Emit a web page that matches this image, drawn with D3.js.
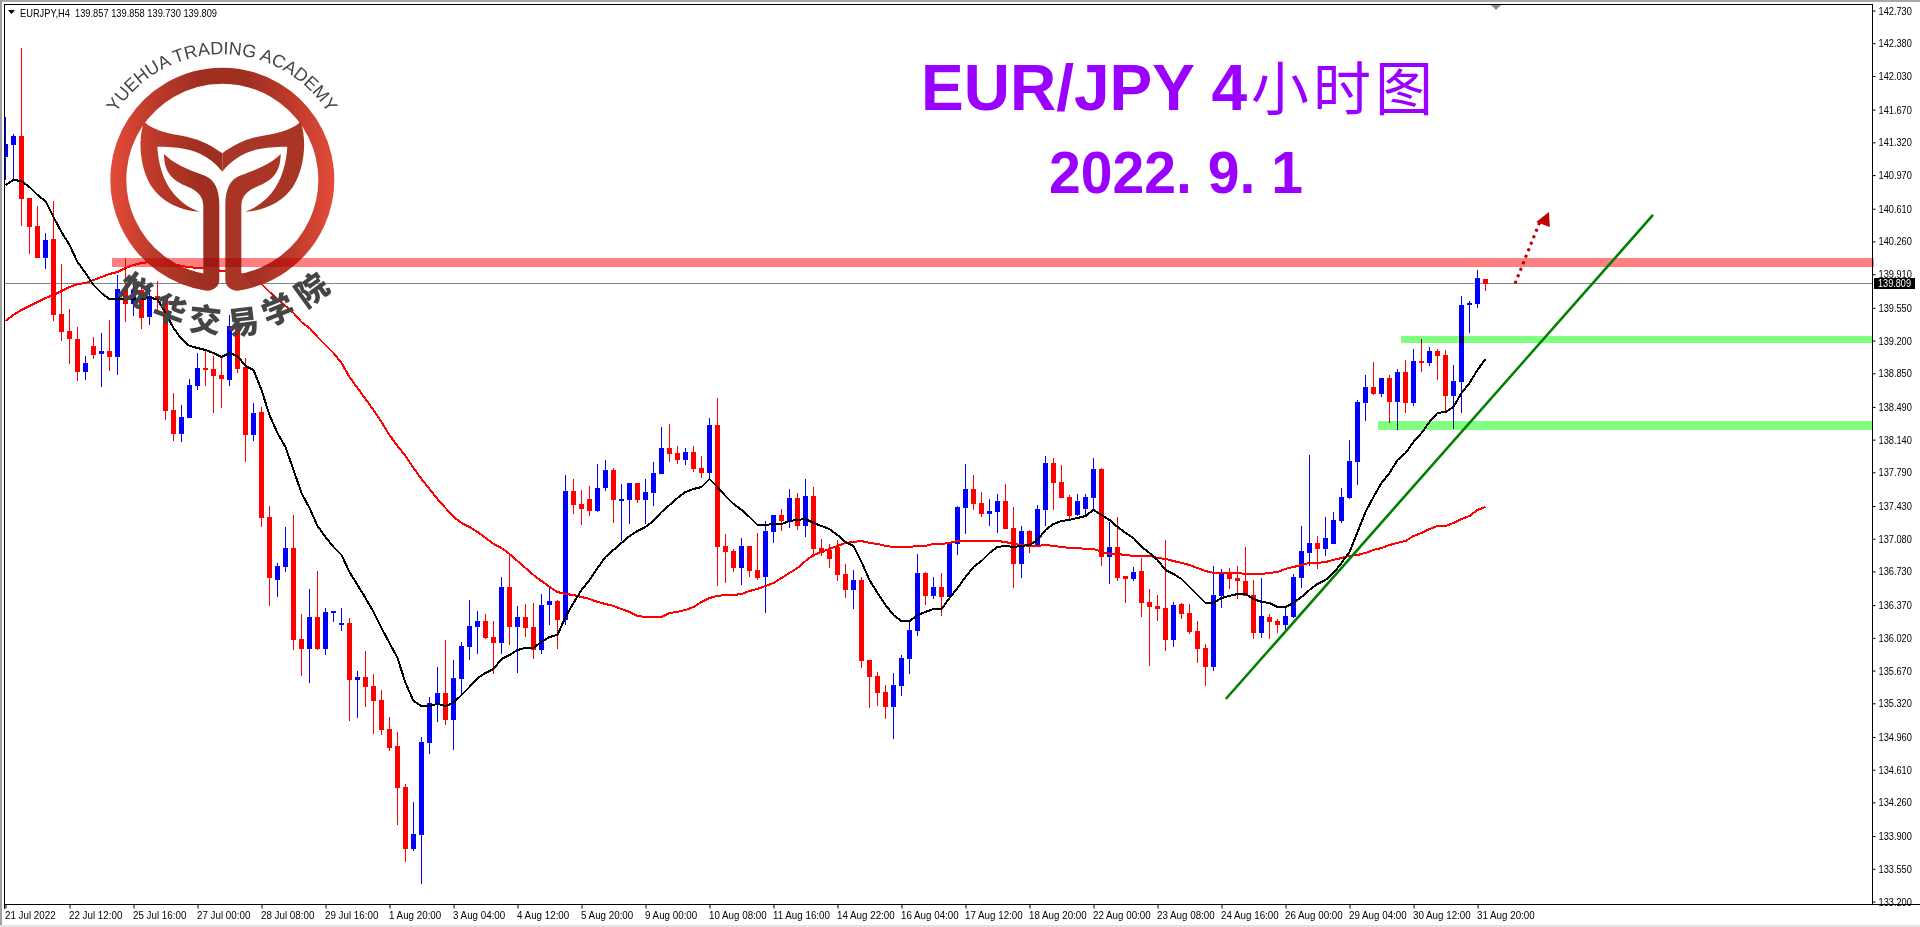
<!DOCTYPE html>
<html>
<head>
<meta charset="utf-8">
<script src="https://cdn.jsdelivr.net/npm/d3@7/dist/d3.min.js"></script>
<style>
html,body{margin:0;padding:0;background:#fff;overflow:hidden}
svg{display:block}
.ax text{font-family:"Liberation Sans",Arial,sans-serif;font-size:11px;fill:#000}
</style>
</head>
<body>
<svg id="c" width="1920" height="927"></svg>
<script>
const symbolInfo = "EURJPY,H4  139.857 139.858 139.730 139.809";
const titleLine1 = ["EUR/JPY 4", "小时图"];
const titleLine2 = "2022. 9. 1";
const logoTextEn = "YUEHUA TRADING ACADEMY";
const logoTextZh = ["悦","华","交","易","学","院"];
const lastPrice = 139.809;

const priceTicks = [142.73,142.38,142.03,141.67,141.32,140.97,140.61,140.26,139.91,139.55,139.2,138.85,138.49,138.14,137.79,137.43,137.08,136.73,136.37,136.02,135.67,135.32,134.96,134.61,134.26,133.9,133.55,133.2];
const timeLabels = ["21 Jul 2022","22 Jul 12:00","25 Jul 16:00","27 Jul 00:00","28 Jul 08:00","29 Jul 16:00","1 Aug 20:00","3 Aug 04:00","4 Aug 12:00","5 Aug 20:00","9 Aug 00:00","10 Aug 08:00","11 Aug 16:00","14 Aug 22:00","16 Aug 04:00","17 Aug 12:00","18 Aug 20:00","22 Aug 00:00","23 Aug 08:00","24 Aug 16:00","26 Aug 00:00","29 Aug 04:00","30 Aug 12:00","31 Aug 20:00"];

const high = [141.591,141.409,142.328,140.724,140.639,140.350,140.692,140.018,139.538,139.345,
139.035,139.238,139.281,139.420,139.900,140.082,139.815,139.772,139.772,139.836,
139.665,138.639,138.511,138.789,139.067,139.088,139.035,139.035,139.474,139.356,
139.013,138.532,138.489,137.431,136.821,137.206,137.334,136.275,136.543,136.736,
136.339,136.307,136.339,136.232,135.665,135.879,135.633,135.462,135.174,135.014,
134.457,134.265,134.960,135.388,135.708,135.997,135.783,135.976,136.425,136.307,
136.275,136.200,136.671,136.906,136.361,136.382,136.393,136.489,136.564,136.425,
137.762,137.719,137.601,137.644,137.880,137.922,137.837,137.665,137.676,137.676,
137.719,137.901,138.275,138.307,138.072,138.051,138.072,137.965,138.371,138.585,
137.131,136.971,137.088,137.003,137.142,137.270,137.334,137.399,137.612,137.569,
137.719,137.633,137.078,137.024,137.067,136.810,136.746,136.671,135.783,135.655,
135.516,135.644,135.837,136.200,136.917,136.725,136.671,136.714,137.045,137.431,
137.880,137.762,137.580,137.505,137.559,137.665,137.420,137.216,137.174,137.441,
137.965,137.944,137.869,137.548,137.559,137.559,137.944,137.837,137.259,137.313,
136.682,136.778,136.874,136.543,136.478,137.067,136.404,136.393,136.382,136.200,
135.954,136.789,136.757,136.767,136.789,136.992,136.639,136.660,136.275,136.222,
136.350,136.703,137.216,137.976,137.109,137.313,137.366,137.623,138.136,138.564,
138.831,138.971,138.800,138.831,138.896,138.992,139.110,139.217,139.131,139.110,
139.099,138.938,139.676,139.623,139.954,139.858];

const bodyHigh = [141.302,141.388,141.388,140.724,140.425,140.275,140.286,139.484,139.302,139.217,
138.960,139.142,139.088,139.088,139.751,139.751,139.740,139.740,139.676,139.676,
139.634,138.457,138.382,138.725,138.906,138.906,138.896,138.831,139.356,139.356,
138.917,138.425,138.436,137.313,136.789,136.981,136.981,136.008,136.243,136.243,
136.297,136.307,136.179,136.179,135.601,135.601,135.505,135.356,135.045,134.864,
134.425,133.923,134.906,135.324,135.430,135.430,135.590,135.933,136.147,136.200,
136.200,136.029,136.564,136.564,136.243,136.243,136.136,136.371,136.414,136.414,
137.590,137.590,137.452,137.505,137.623,137.815,137.815,137.505,137.676,137.676,
137.580,137.783,138.051,138.051,137.997,138.008,138.008,137.837,138.297,138.297,
137.003,136.949,137.003,137.003,136.746,137.163,137.334,137.334,137.516,137.516,
137.537,137.537,136.981,136.960,136.992,136.703,136.639,136.639,135.783,135.612,
135.441,135.516,135.805,136.104,136.714,136.714,136.564,136.564,137.045,137.420,
137.612,137.612,137.463,137.377,137.484,137.484,137.195,137.163,137.163,137.399,
137.890,137.890,137.687,137.527,137.484,137.527,137.826,137.826,136.992,136.992,
136.682,136.725,136.735,136.404,136.361,136.339,136.371,136.382,136.286,136.093,
135.912,136.478,136.703,136.714,136.660,136.628,136.478,136.254,136.243,136.200,
136.254,136.671,136.949,137.035,137.035,137.088,137.281,137.527,137.912,138.543,
138.703,138.703,138.800,138.800,138.864,138.864,138.981,138.981,139.088,139.088,
139.046,138.767,139.580,139.602,139.869,139.857];

const bodyLow = [141.163,141.292,140.714,140.414,140.082,140.082,139.474,139.292,139.217,138.864,
138.864,139.046,139.056,139.024,139.024,139.591,139.591,139.441,139.452,139.634,
138.446,138.200,138.200,138.371,138.714,138.885,138.821,138.789,138.778,138.896,
138.189,138.189,137.302,136.660,136.639,136.778,135.997,135.901,135.901,135.901,
135.901,136.286,136.168,135.569,135.569,135.494,135.345,135.035,134.842,134.415,
133.762,133.762,133.912,134.896,135.302,135.142,135.142,135.580,135.922,136.136,
136.018,135.965,135.965,136.136,136.136,136.125,135.890,135.890,136.371,136.211,
136.211,137.441,137.399,137.377,137.377,137.623,137.495,137.484,137.495,137.495,
137.495,137.569,137.772,137.986,137.922,137.922,137.826,137.783,137.783,136.992,
136.939,136.767,136.767,136.735,136.660,136.671,137.152,137.270,137.270,137.216,
137.216,136.971,136.928,136.864,136.692,136.532,136.532,135.772,135.601,135.430,
135.281,135.281,135.505,135.794,136.093,136.468,136.468,136.457,136.457,137.024,
137.409,137.452,137.345,137.345,137.366,137.184,136.810,136.810,137.013,137.013,
137.388,137.676,137.516,137.323,137.334,137.399,137.516,136.885,136.885,136.660,
136.650,136.650,136.393,136.350,136.329,135.997,135.997,136.275,136.082,135.901,
135.708,135.708,136.468,136.650,136.628,136.468,136.072,136.072,136.190,136.158,
136.158,136.243,136.660,136.928,136.971,136.971,137.024,137.270,137.516,137.901,
138.532,138.628,138.628,138.543,138.543,138.532,138.532,138.960,138.960,139.035,
138.607,138.607,138.756,139.580,139.591,139.809];

const low = [140.917,140.917,140.425,140.125,140.082,139.965,139.409,139.195,138.949,138.767,
138.778,139.003,138.703,138.874,138.831,139.398,139.463,139.324,139.367,139.527,
138.350,138.125,138.115,138.371,138.671,138.714,138.425,138.479,138.714,138.853,
137.900,138.125,137.206,136.361,136.457,136.725,135.890,135.612,135.537,135.890,
135.837,136.189,136.093,135.131,135.163,135.281,134.992,134.981,134.810,134.019,
133.623,133.740,133.388,134.778,135.120,135.088,134.821,135.398,135.783,135.847,
136.008,135.633,135.847,135.944,135.644,136.029,135.794,135.847,136.158,135.901,
136.158,137.345,137.227,137.323,137.366,137.590,137.249,137.056,137.238,137.463,
137.238,137.431,137.772,137.901,137.880,137.869,137.794,137.730,137.708,136.575,
136.607,136.725,136.585,136.671,136.639,136.286,137.035,137.163,137.195,137.174,
137.099,136.885,136.896,136.767,136.628,136.446,136.329,135.697,135.270,135.291,
135.152,134.938,135.398,135.633,136.040,136.371,136.436,136.254,136.457,136.906,
137.131,137.388,137.313,137.216,137.142,137.184,136.553,136.660,136.928,137.013,
137.216,137.388,137.516,137.281,137.323,137.323,137.388,136.789,136.596,136.628,
136.393,136.628,136.243,135.719,136.200,135.879,135.922,136.222,136.061,135.751,
135.505,135.665,136.339,136.543,136.436,136.468,136.008,136.018,136.008,136.072,
136.104,136.232,136.553,136.789,136.757,136.896,137.024,137.249,137.505,137.655,
138.339,138.618,138.596,138.318,138.243,138.425,138.500,138.864,138.928,138.778,
138.446,138.254,138.425,139.281,139.548,139.730];

// candle indexes that closed up (drawn blue); all others closed down (red)
const upCandles = [0,1,5,10,12,14,16,18,22,23,24,28,31,34,35,38,40,41,42,44,51,52,53,54,56,57,58,59,62,64,67,68,70,74,75,77,78,80,81,82,85,88,92,95,96,98,100,106,111,112,113,114,116,118,119,120,123,124,127,129,130,134,135,136,138,141,146,151,152,157,160,161,162,163,165,166,167,168,169,170,172,174,176,178,181,182,183,184];

const maFast = [140.863,140.917,140.906,140.842,140.757,140.692,140.521,140.361,140.222,140.040,
139.922,139.794,139.708,139.644,139.644,139.644,139.644,139.644,139.655,139.644,
139.495,139.334,139.217,139.142,139.120,139.099,139.067,139.024,139.067,139.035,
138.928,138.885,138.671,138.403,138.211,138.061,137.815,137.569,137.409,137.216,
137.099,136.992,136.906,136.725,136.585,136.446,136.297,136.125,135.965,135.805,
135.537,135.345,135.291,135.291,135.313,135.291,135.324,135.409,135.494,135.590,
135.644,135.687,135.794,135.837,135.890,135.912,135.912,135.976,136.029,136.051,
136.243,136.393,136.532,136.639,136.767,136.885,136.960,137.035,137.109,137.163,
137.206,137.270,137.366,137.441,137.516,137.580,137.612,137.633,137.719,137.633,
137.537,137.452,137.388,137.313,137.227,137.227,137.238,137.238,137.270,137.281,
137.291,137.249,137.216,137.184,137.120,137.045,137.003,136.832,136.639,136.500,
136.371,136.264,136.200,136.200,136.264,136.297,136.329,136.329,136.446,136.553,
136.671,136.778,136.842,136.928,136.992,137.003,136.992,137.003,137.013,137.067,
137.174,137.238,137.270,137.281,137.302,137.323,137.388,137.334,137.281,137.206,
137.142,137.088,136.992,136.928,136.853,136.746,136.703,136.650,136.564,136.478,
136.393,136.393,136.446,136.468,136.489,136.489,136.436,136.404,136.393,136.350,
136.350,136.393,136.457,136.532,136.596,136.639,136.714,136.821,136.939,137.152,
137.366,137.527,137.676,137.783,137.922,137.997,138.115,138.211,138.329,138.425,
138.436,138.489,138.639,138.746,138.885,139.003];

const maSlow = [139.409,139.474,139.527,139.569,139.612,139.655,139.687,139.730,139.772,139.804,
139.815,139.847,139.879,139.912,139.933,139.976,140.008,140.029,140.040,140.040,
140.029,140.018,139.997,139.986,139.976,139.976,139.965,139.944,139.933,139.922,
139.890,139.858,139.804,139.719,139.644,139.569,139.495,139.398,139.334,139.238,
139.152,139.067,138.960,138.810,138.692,138.575,138.457,138.329,138.189,138.072,
137.965,137.837,137.719,137.612,137.505,137.409,137.313,137.249,137.206,137.152,
137.088,137.024,136.981,136.917,136.842,136.767,136.692,136.628,136.564,136.510,
136.489,136.478,136.457,136.436,136.404,136.382,136.361,136.329,136.297,136.254,
136.243,136.243,136.243,136.286,136.297,136.318,136.350,136.404,136.446,136.468,
136.478,136.478,136.489,136.521,136.543,136.575,136.607,136.660,136.714,136.767,
136.842,136.906,136.939,136.971,137.003,137.035,137.045,137.056,137.035,137.024,
137.003,136.992,136.992,136.992,137.003,137.003,137.024,137.024,137.035,137.056,
137.056,137.056,137.056,137.056,137.056,137.045,137.024,137.013,137.003,137.003,
137.013,137.003,136.992,136.981,136.981,136.971,136.971,136.939,136.917,136.917,
136.906,136.896,136.896,136.896,136.874,136.864,136.842,136.821,136.799,136.767,
136.735,136.714,136.714,136.714,136.714,136.703,136.703,136.703,136.714,136.724,
136.757,136.778,136.799,136.821,136.821,136.831,136.853,136.874,136.896,136.906,
136.928,136.960,136.981,137.013,137.035,137.056,137.109,137.142,137.184,137.216,
137.216,137.249,137.291,137.323,137.388,137.420];

// horizontal zones: [first candle index, top price, bottom price]
const resistanceZone = [13.4, 140.082, 139.986];
const supportZoneUpper = [174.5, 139.248, 139.174];
const supportZoneLower = [171.6, 138.339, 138.243];
// trend line and arrow: [candle index, price]
const trendLine = [[152.6, 135.366],[206, 140.543]];
const arrowShaft = [[188.75, 139.809],[191.9, 140.478]];
const arrowHead = [[193, 140.574],[191.4, 140.467],[193.1, 140.414]];

const n = high.length;
const candles = d3.range(n).map(i => {
  const up = upCandles.includes(i);
  return {i, up, high: high[i], low: low[i],
    open: up ? bodyLow[i] : bodyHigh[i], close: up ? bodyHigh[i] : bodyLow[i]};
});

const x = d3.scaleLinear().domain([0, 1]).range([5, 13]);
const y = d3.scaleLinear().domain([133.2, 142.73]).range([901.5, 10.5]);
const px = v => Math.round(y(v));
const right = 1872, bottom = 904, left = 4, top0 = 4;

const svg = d3.select("#c");
const defs = svg.append("defs");
defs.append("clipPath").attr("id","plot").append("rect")
  .attr("x",5).attr("y",5).attr("width",right-5).attr("height",bottom-5);
const grad = defs.append("linearGradient").attr("id","logoGrad")
  .attr("gradientUnits","userSpaceOnUse").attr("x1",60).attr("x2",734).attr("y1",0).attr("y2",0);
[[0,"#e44c3a"],[0.18,"#bf3b2b"],[0.4,"#9f2f21"],[0.6,"#9f2f21"],[0.82,"#bf3b2b"],[1,"#e44c3a"]]
  .forEach(s => grad.append("stop").attr("offset",s[0]).attr("stop-color",s[1]));

// window chrome
svg.append("rect").attr("x",0).attr("y",0).attr("width",1920).attr("height",2).attr("fill","#a8a8a8");
svg.append("rect").attr("x",0).attr("y",0).attr("width",2).attr("height",925).attr("fill","#a0a0a0");
svg.append("rect").attr("x",0).attr("y",925).attr("width",1920).attr("height",2).attr("fill","#e4e4e4");

const plot = svg.append("g").attr("clip-path","url(#plot)");

// current price line
plot.append("line").attr("x1",5).attr("x2",right)
  .attr("y1",px(lastPrice)-.5).attr("y2",px(lastPrice)-.5)
  .attr("stroke","#808488").attr("stroke-width",1).attr("shape-rendering","crispEdges");

// candles
const cg = plot.append("g").attr("shape-rendering","crispEdges");
cg.selectAll("rect.w").data(candles).join("rect").attr("class","w")
  .attr("x", d => x(d.i)).attr("width",1)
  .attr("y", d => px(d.high)).attr("height", d => Math.max(1, px(d.low)-px(d.high)))
  .attr("fill", d => d.up ? "#0000ff" : "#ff0000");
cg.selectAll("rect.b").data(candles).join("rect").attr("class","b")
  .attr("x", d => x(d.i)-2).attr("width",5)
  .attr("y", d => px(Math.max(d.open,d.close)))
  .attr("height", d => Math.max(2, px(Math.min(d.open,d.close))-px(Math.max(d.open,d.close))))
  .attr("fill", d => d.up ? "#0000ff" : "#ff0000");

// moving averages
const line = d3.line().x((d,i)=>x(i)+.5).y(d=>y(d));
plot.append("path").datum(maSlow).attr("d",line).attr("fill","none").attr("stroke","#ff0000").attr("stroke-width",2).attr("shape-rendering","crispEdges");
plot.append("path").datum(maFast).attr("d",line).attr("fill","none").attr("stroke","#000").attr("stroke-width",2).attr("shape-rendering","crispEdges");

// logo (decorative artwork, in its own local drawing space)
const logo = svg.append("g").attr("transform","translate(90,20) scale(0.3333)");
const cx = 397, cy = 479, r = 312;
const ang = Math.asin(46/ r);
logo.append("path")
  .attr("d",`M${cx-r*Math.sin(ang)},${cy+r*Math.cos(ang)} A${r},${r} 0 1 1 ${cx+r*Math.sin(ang)},${cy+r*Math.cos(ang)}`)
  .attr("fill","none").attr("stroke","url(#logoGrad)").attr("stroke-width",48);
const tailL = "M162,305 C195,335 240,340 290,350 C335,360 370,380 397,400 L397,455 C370,420 330,395 285,387 C255,381 230,380 202,380 C205,430 218,480 250,520 C275,550 300,565 328,575 C270,572 215,545 185,500 C155,455 140,370 162,305 Z";
const stemL = "M222,402 C250,430 290,448 345,467 C372,478 388,505 388,555 L388,780 C388,798 372,812 352,812 L300,800 L340,762 L340,560 C340,530 325,515 300,503 C255,485 222,465 222,402 Z";
const mirror = `translate(${2*cx},0) scale(-1,1)`;
[tailL, stemL].forEach(p => {
  logo.append("path").attr("d",p).attr("fill","url(#logoGrad)");
  logo.append("path").attr("d",p).attr("fill","#a83525").attr("transform",mirror);
});
svg.append("defs").append("path").attr("id","arcEn")
  .attr("d","M 99,157 A 125,125 0 0 1 345,157");
svg.append("text").attr("font-family","Liberation Sans,Arial,sans-serif").attr("font-size",18).attr("fill","#454545")
  .append("textPath").attr("href","#arcEn").attr("startOffset","50%").attr("text-anchor","middle").text(logoTextEn);
const zhPos = [[135,290,36],[170,310,20],[205,320,6],[243,322,-7],[278,310,-22],[312,290,-36]];
svg.append("g").selectAll("text").data(logoTextZh).join("text")
  .attr("transform",(d,i)=>`translate(${zhPos[i][0]},${zhPos[i][1]}) rotate(${zhPos[i][2]})`)
  .attr("text-anchor","middle").attr("dy","0.36em")
  .attr("font-family","Noto Sans CJK SC").attr("font-weight",900).attr("font-size",32).attr("fill","#454545")
  .text(d=>d);

// zones on top with multiply
const zones = [[resistanceZone,"#ff8080",right+2],[supportZoneUpper,"#80ff80",right],[supportZoneLower,"#80ff80",right]];
svg.append("g").attr("shape-rendering","crispEdges").selectAll("rect").data(zones).join("rect")
  .attr("x",d=>x(d[0][0])).attr("width",d=>d[2]-x(d[0][0]))
  .attr("y",d=>px(d[0][1])).attr("height",d=>px(d[0][2])-px(d[0][1]))
  .attr("fill",d=>d[1]).style("mix-blend-mode","multiply");

// trend line
const annLine = d3.line().x(d=>x(d[0])).y(d=>y(d[1]));
svg.append("path").datum(trendLine).attr("d",annLine).attr("stroke","#008000").attr("stroke-width",2.6).attr("fill","none");
// arrow
svg.append("path").datum(arrowShaft).attr("d",annLine).attr("stroke","#c00000").attr("stroke-width",3)
  .attr("stroke-dasharray","3 4").attr("fill","none");
svg.append("path").attr("d",annLine(arrowHead)+"Z").attr("fill","#c00000");

// axes
const tighten = (sel, k) => sel.each(function(){
  const len = this.getComputedTextLength();
  d3.select(this).attr("textLength",len*k).attr("lengthAdjust","spacingAndGlyphs");
});
const yAxis = d3.axisRight(y).tickValues(priceTicks).tickFormat(d3.format(".3f")).tickSize(3).tickPadding(3);
const yg = svg.append("g").attr("class","ax").attr("transform",`translate(${right+.5},0)`).call(yAxis);
yg.select(".domain").remove();
tighten(yg.selectAll("text"),0.84);
const xAxis = d3.axisBottom(x).tickValues(timeLabels.map((d,i)=>i*8)).tickFormat((d,i)=>timeLabels[i]).tickSize(4).tickPadding(3);
const xg = svg.append("g").attr("class","ax").attr("transform",`translate(0.5,${bottom+.5})`).call(xAxis);
xg.select(".domain").remove();
xg.selectAll("text").attr("text-anchor","start").attr("x",-1);
tighten(xg.selectAll("text"),0.89);

// frame
const frame = svg.append("g").attr("stroke","#000").attr("stroke-width",1).attr("shape-rendering","crispEdges");
frame.append("line").attr("x1",left+.5).attr("x2",left+.5).attr("y1",top0).attr("y2",bottom+5);
frame.append("line").attr("x1",left).attr("x2",right+1).attr("y1",top0+.5).attr("y2",top0+.5);
frame.append("line").attr("x1",right+.5).attr("x2",right+.5).attr("y1",top0).attr("y2",bottom+1);
frame.append("line").attr("x1",left).attr("x2",1920).attr("y1",bottom+.5).attr("y2",bottom+.5);

// chart-shift marker
svg.append("path").attr("d","M1491,5 L1501,5 L1496,10 Z").attr("fill","#7f8c9a");

// symbol line
svg.append("path").attr("d","M8,10 L15,10 L11.5,14 Z").attr("fill","#000");
const sym = svg.append("text").attr("x",20).attr("y",16.5).attr("xml:space","preserve").style("white-space","pre")
  .attr("font-family","Liberation Sans,Arial,sans-serif").attr("font-size",11).attr("fill","#000").text(symbolInfo);
sym.attr("textLength",197).attr("lengthAdjust","spacingAndGlyphs");

// last price tag
const tagY = px(lastPrice)-1;
svg.append("rect").attr("x",1874).attr("y",tagY-5).attr("width",41).attr("height",11).attr("fill","#000");
const tag = svg.append("text").attr("x",1878).attr("y",tagY+4).attr("font-family","Liberation Sans,Arial,sans-serif")
  .attr("font-size",11).attr("fill","#fff").text(lastPrice.toFixed(3));
tag.attr("textLength",33).attr("lengthAdjust","spacingAndGlyphs");

// titles
const t1 = svg.append("text").attr("x",921).attr("y",110).attr("fill","#9900ff");
t1.append("tspan").attr("font-family","Liberation Sans,Arial,sans-serif").attr("font-weight",700).attr("font-size",64).text(titleLine1[0]);
t1.append("tspan").attr("font-family","Noto Sans CJK SC").attr("font-weight",400).attr("font-size",58).attr("letter-spacing",4).attr("dx",4).text(titleLine1[1]);
svg.append("text").attr("x",1049).attr("y",193).attr("fill","#9900ff").attr("textLength",254).attr("lengthAdjust","spacingAndGlyphs")
  .attr("font-family","Liberation Sans,Arial,sans-serif").attr("font-weight",700).attr("font-size",60).text(titleLine2);
</script>
</body>
</html>
